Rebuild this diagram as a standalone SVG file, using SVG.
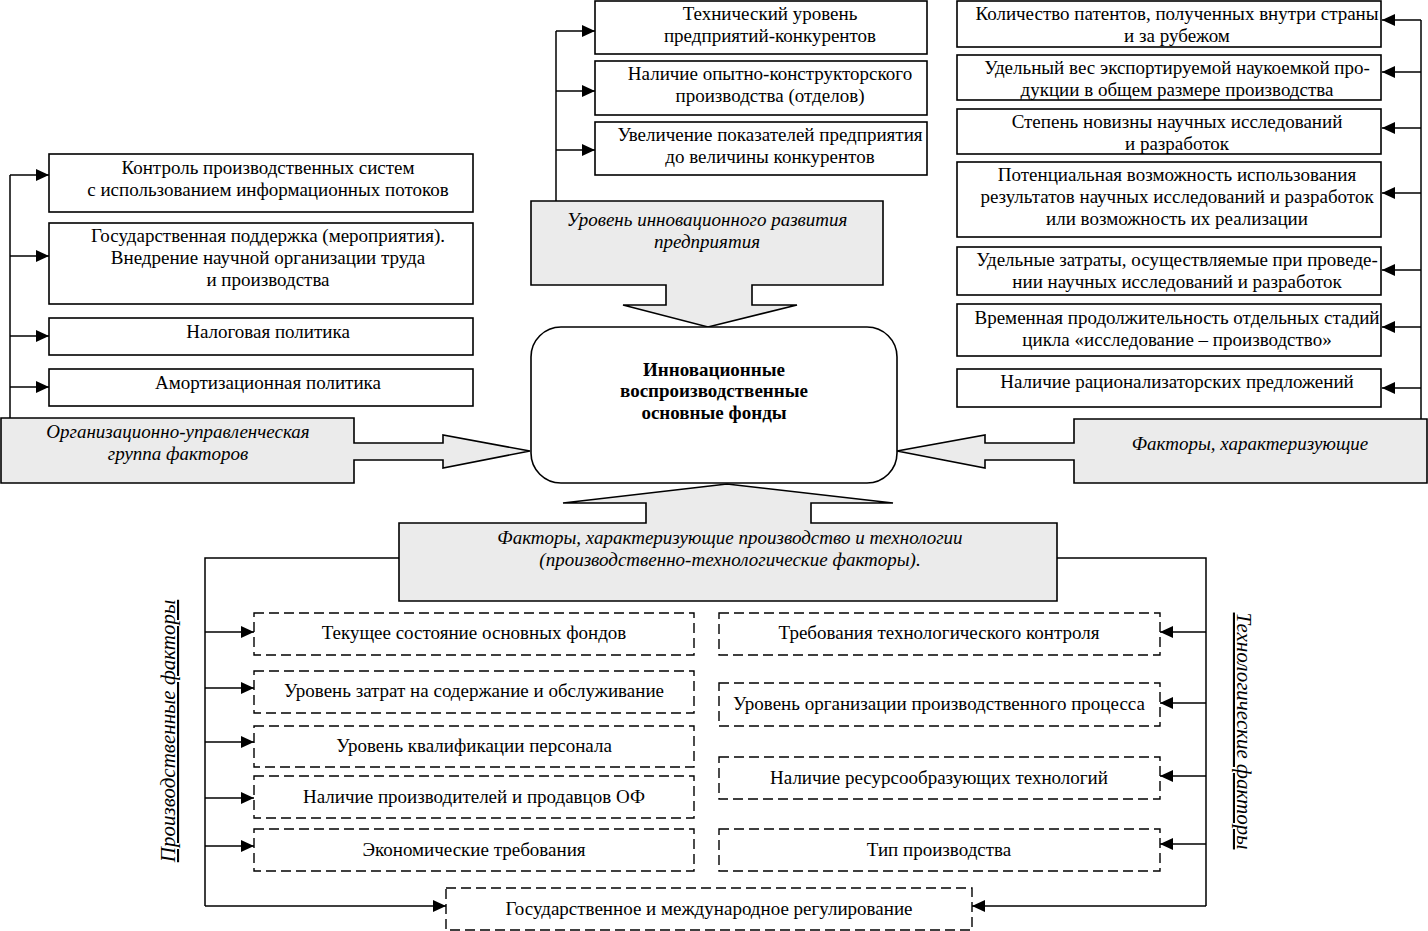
<svg xmlns="http://www.w3.org/2000/svg" width="1428" height="931" viewBox="0 0 1428 931">
<defs>
<marker id="ah" markerUnits="userSpaceOnUse" markerWidth="14" markerHeight="12" refX="13" refY="6" orient="auto">
<path d="M0,0 L13,6 L0,12 z" fill="#000"/>
</marker>
<style>
.bx{fill:#fff;stroke:#000;stroke-width:1.6}
.db{fill:#fff;stroke:#000;stroke-width:1.4;stroke-dasharray:10,5}
.gr{fill:#ebebeb;stroke:#000;stroke-width:1.6}
.ln{fill:none;stroke:#000;stroke-width:1.5}
.ar{fill:none;stroke:#000;stroke-width:1.5;marker-end:url(#ah)}
text{font-family:"Liberation Serif","Times New Roman",serif;font-size:19px;fill:#000;text-anchor:middle}
.it{font-style:italic}
.bd{font-weight:bold;font-size:19px}
.vt{font-style:italic;font-size:21px;text-decoration:underline}
</style>
</defs>

<g id="connectors">
<polyline class="ln" points="10,418 10,175"/>
<line class="ar" x1="10" y1="175" x2="49" y2="175"/>
<line class="ar" x1="10" y1="256" x2="49" y2="256"/>
<line class="ar" x1="10" y1="336" x2="49" y2="336"/>
<line class="ar" x1="10" y1="387" x2="49" y2="387"/>

<polyline class="ln" points="556,201 556,31"/>
<line class="ar" x1="556" y1="31" x2="595" y2="31"/>
<line class="ar" x1="556" y1="91" x2="595" y2="91"/>
<line class="ar" x1="556" y1="150" x2="595" y2="150"/>

<polyline class="ln" points="1421,419 1421,20"/>
<line class="ar" x1="1421" y1="20" x2="1382" y2="20"/>
<line class="ar" x1="1421" y1="72" x2="1382" y2="72"/>
<line class="ar" x1="1421" y1="128" x2="1382" y2="128"/>
<line class="ar" x1="1421" y1="193" x2="1382" y2="193"/>
<line class="ar" x1="1421" y1="270" x2="1382" y2="270"/>
<line class="ar" x1="1421" y1="327" x2="1382" y2="327"/>
<line class="ar" x1="1421" y1="388" x2="1382" y2="388"/>

<polyline class="ln" points="399,558 205,558 205,906"/>
<line class="ar" x1="205" y1="632" x2="254" y2="632"/>
<line class="ar" x1="205" y1="688" x2="254" y2="688"/>
<line class="ar" x1="205" y1="742" x2="254" y2="742"/>
<line class="ar" x1="205" y1="798" x2="254" y2="798"/>
<line class="ar" x1="205" y1="846" x2="254" y2="846"/>
<line class="ar" x1="205" y1="906" x2="446" y2="906"/>

<polyline class="ln" points="1057,558 1206,558 1206,906"/>
<line class="ar" x1="1206" y1="632" x2="1160" y2="632"/>
<line class="ar" x1="1206" y1="703" x2="1160" y2="703"/>
<line class="ar" x1="1206" y1="776" x2="1160" y2="776"/>
<line class="ar" x1="1206" y1="844" x2="1160" y2="844"/>
<line class="ar" x1="1206" y1="906" x2="972" y2="906"/>
</g>

<g id="org-group">
<path class="gr" d="M1,418 H354 V443 H443 V435 L530,451 L443,468 V460 H354 V483 H1 Z"/>
<text class="it" x="178" y="438">Организационно-управленческая</text>
<text class="it" x="178" y="460">группа факторов</text>
</g>

<g id="innov-level">
<path class="gr" d="M531,201 H883 V285 H752 V305 H797 L708,327 L623,305 H666 V285 H531 Z"/>
<text class="it" x="707" y="226">Уровень инновационного развития</text>
<text class="it" x="707" y="248">предприятия</text>
</g>

<g id="sci-factors">
<path class="gr" d="M1427,419 H1074 V443 H985 V435 L897,451 L985,468 V460 H1074 V483 H1427 Z"/>
<text class="it" x="1250" y="450">Факторы, характеризующие</text>
</g>

<g id="prod-tech">
<path class="gr" d="M399,523 H646 V503 H563 L727,484 L893,503 H811 V523 H1057 V601 H399 Z"/>
<text class="it" x="730" y="544">Факторы, характеризующие производство и технологии</text>
<text class="it" x="730" y="566">(производственно-технологические факторы).</text>
</g>

<g id="center">
<rect class="bx" x="531" y="327" width="366" height="156" rx="30" ry="30"/>
<text class="bd" x="714" y="376">Инновационные</text>
<text class="bd" x="714" y="397">воспроизводственные</text>
<text class="bd" x="714" y="419">основные фонды</text>
</g>

<g id="left-1">
<rect class="bx" x="49" y="154" width="424" height="58"/>
<text x="268" y="174">Контроль производственных систем</text>
<text x="268" y="196">с использованием информационных потоков</text>
</g>
<g id="left-2">
<rect class="bx" x="49" y="223" width="424" height="81"/>
<text x="268" y="242">Государственная поддержка (мероприятия).</text>
<text x="268" y="264">Внедрение научной организации труда</text>
<text x="268" y="286">и производства</text>
</g>
<g id="left-3">
<rect class="bx" x="49" y="318" width="424" height="37"/>
<text x="268" y="338">Налоговая политика</text>
</g>
<g id="left-4">
<rect class="bx" x="49" y="369" width="424" height="37"/>
<text x="268" y="389">Амортизационная политика</text>
</g>

<g id="top-1">
<rect class="bx" x="595" y="1" width="332" height="53"/>
<text x="770" y="20">Технический уровень</text>
<text x="770" y="42">предприятий-конкурентов</text>
</g>
<g id="top-2">
<rect class="bx" x="595" y="61" width="332" height="54"/>
<text x="770" y="80">Наличие опытно-конструкторского</text>
<text x="770" y="102">производства (отделов)</text>
</g>
<g id="top-3">
<rect class="bx" x="595" y="122" width="332" height="53"/>
<text x="770" y="141">Увеличение показателей предприятия</text>
<text x="770" y="163">до величины конкурентов</text>
</g>

<g id="right-1">
<rect class="bx" x="957" y="1" width="424" height="46"/>
<text x="1177" y="20">Количество патентов, полученных внутри страны</text>
<text x="1177" y="42">и за рубежом</text>
</g>
<g id="right-2">
<rect class="bx" x="957" y="55" width="424" height="45"/>
<text x="1177" y="74">Удельный вес экспортируемой наукоемкой про-</text>
<text x="1177" y="96">дукции в общем размере производства</text>
</g>
<g id="right-3">
<rect class="bx" x="957" y="109" width="424" height="45"/>
<text x="1177" y="128">Степень новизны научных исследований</text>
<text x="1177" y="150">и разработок</text>
</g>
<g id="right-4">
<rect class="bx" x="957" y="162" width="424" height="75"/>
<text x="1177" y="181">Потенциальная возможность использования</text>
<text x="1177" y="203">результатов научных исследований и разработок</text>
<text x="1177" y="225">или возможность их реализации</text>
</g>
<g id="right-5">
<rect class="bx" x="957" y="247" width="424" height="48"/>
<text x="1177" y="266">Удельные затраты, осуществляемые при проведе-</text>
<text x="1177" y="288">нии научных исследований и разработок</text>
</g>
<g id="right-6">
<rect class="bx" x="957" y="304" width="424" height="52"/>
<text x="1177" y="324">Временная продолжительность отдельных стадий</text>
<text x="1177" y="346">цикла «исследование – производство»</text>
</g>
<g id="right-7">
<rect class="bx" x="957" y="369" width="424" height="38"/>
<text x="1177" y="388">Наличие рационализаторских предложений</text>
</g>

<g id="prod-1">
<rect class="db" x="254" y="613" width="440" height="42"/>
<text x="474" y="639">Текущее состояние основных фондов</text>
</g>
<g id="prod-2">
<rect class="db" x="254" y="671" width="440" height="42"/>
<text x="474" y="697">Уровень затрат на содержание и обслуживание</text>
</g>
<g id="prod-3">
<rect class="db" x="254" y="726" width="440" height="41"/>
<text x="474" y="752">Уровень квалификации персонала</text>
</g>
<g id="prod-4">
<rect class="db" x="254" y="776" width="440" height="42"/>
<text x="474" y="803">Наличие производителей и продавцов ОФ</text>
</g>
<g id="prod-5">
<rect class="db" x="254" y="829" width="440" height="42"/>
<text x="474" y="856">Экономические требования</text>
</g>

<g id="tech-1">
<rect class="db" x="719" y="613" width="441" height="42"/>
<text x="939" y="639">Требования технологического контроля</text>
</g>
<g id="tech-2">
<rect class="db" x="719" y="683" width="441" height="43"/>
<text x="939" y="710">Уровень организации производственного процесса</text>
</g>
<g id="tech-3">
<rect class="db" x="719" y="757" width="441" height="42"/>
<text x="939" y="784">Наличие ресурсообразующих технологий</text>
</g>
<g id="tech-4">
<rect class="db" x="719" y="829" width="441" height="42"/>
<text x="939" y="856">Тип производства</text>
</g>

<g id="regulation">
<rect class="db" x="446" y="888" width="526" height="42"/>
<text x="709" y="915">Государственное и международное регулирование</text>
</g>

<g id="label-prod">
<text class="vt" transform="translate(175,731) rotate(-90)">Производственные факторы</text>
</g>
<g id="label-tech">
<text class="vt" transform="translate(1237,731) rotate(90)">Технологические факторы</text>
</g>
</svg>
